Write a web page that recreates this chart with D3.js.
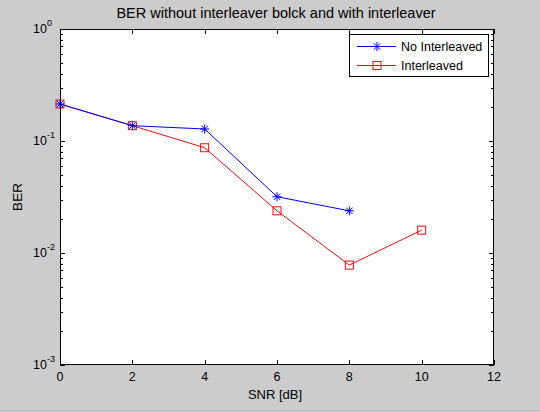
<!DOCTYPE html>
<html lang="en">
<head>
	<meta charset="utf-8">
	<title>BER</title>
<style>
	body, html {
	  margin: 0;
	  padding: 0;
	  background: #cccccc;
	  font-family: "Liberation Sans", Arial, Helvetica, sans-serif;
	}
	svg { display: block; }
</style>
</head>
<body>
	<svg></svg>
	<script src="https://d3js.org/d3.v7.min.js"></script>
	<script>

		// chart values
		let snr = [0, 2, 4, 6, 8, 10];
		let berNoInter = [0.214, 0.137, 0.128, 0.0318, 0.0238];
		let berInter = [0.214, 0.137, 0.0871, 0.0238, 0.0078, 0.0160];
		let xTicks = [0, 2, 4, 6, 8, 10, 12];
		let yTicks = [1, 0.1, 0.01, 0.001];
		let yTickExp = ["0", "-1", "-2", "-3"];
		let seriesNames = ["No Interleaved", "Interleaved"];

		let w = 540, h = 412;
		let m = {left: 60, right: 494, top: 29, bottom: 365};

		let svg = d3.select("svg")
			.attr("width", w)
			.attr("height", h);

		// background and bottom edge line
		svg.append("rect").attr("width", w).attr("height", h).attr("fill", "#cccccc");
		svg.append("line")
			.attr("x1", 0).attr("x2", w)
			.attr("y1", 410.5).attr("y2", 410.5)
			.attr("stroke", "#9dbbd6").attr("stroke-width", 1);

		let x = d3.scaleLinear().domain([0, 12]).range([m.left, m.right]);
		let y = d3.scaleLog().domain([0.001, 1]).range([m.bottom, m.top]);

		// plot area
		svg.append("rect")
			.attr("x", m.left).attr("y", m.top)
			.attr("width", m.right - m.left).attr("height", m.bottom - m.top)
			.attr("fill", "white");

		let axes = svg.append("g").attr("stroke", "black").attr("stroke-width", 1);

		// x ticks (inward, bottom and top)
		xTicks.forEach(t => {
			let px = Math.round(x(t)) + 0.5;
			axes.append("line").attr("x1", px).attr("x2", px).attr("y1", m.bottom).attr("y2", m.bottom - 5);
			axes.append("line").attr("x1", px).attr("x2", px).attr("y1", m.top).attr("y2", m.top + 5);
		});

		// y ticks: major and minor, both sides
		let minor = [];
		for (let e = -3; e < 0; e++) {
			for (let k = 2; k <= 9; k++) minor.push(k * Math.pow(10, e));
		}
		yTicks.forEach(t => {
			let py = Math.round(y(t)) + 0.5;
			axes.append("line").attr("x1", m.left).attr("x2", m.left + 5).attr("y1", py).attr("y2", py);
			axes.append("line").attr("x1", m.right).attr("x2", m.right - 5).attr("y1", py).attr("y2", py);
		});
		minor.forEach(t => {
			let py = Math.round(y(t)) + 0.5;
			axes.append("line").attr("x1", m.left).attr("x2", m.left + 3).attr("y1", py).attr("y2", py);
			axes.append("line").attr("x1", m.right).attr("x2", m.right - 3).attr("y1", py).attr("y2", py);
		});

		// frame
		svg.append("rect")
			.attr("x", m.left + 0.5).attr("y", m.top + 0.5)
			.attr("width", m.right - m.left - 1).attr("height", m.bottom - m.top - 1)
			.attr("fill", "none").attr("stroke", "black");

		// tick labels
		svg.append("g")
			.selectAll("text")
			.data(xTicks)
			.enter()
			.append("text")
			.attr("x", d => x(d))
			.attr("y", m.bottom + 16)
			.attr("text-anchor", "middle")
			.style("font-size", "12.5px")
			.text(d => d);

		let yl = svg.append("g").selectAll("g").data(yTicks).enter().append("g");
		yl.append("text")
			.attr("x", 47)
			.attr("y", d => y(d) + 4)
			.attr("text-anchor", "end")
			.style("font-size", "12.5px")
			.text("10");
		yl.append("text")
			.attr("x", 47)
			.attr("y", d => y(d) - 3)
			.style("font-size", "9px")
			.text((d, i) => yTickExp[i]);

		// titles
		svg.append("text")
			.attr("x", 276).attr("y", 18)
			.attr("text-anchor", "middle")
			.style("font-size", "14.5px")
			.text("BER without interleaver bolck and with interleaver");
		svg.append("text")
			.attr("x", 275).attr("y", 399)
			.attr("text-anchor", "middle")
			.style("font-size", "13px")
			.text("SNR [dB]");
		svg.append("text")
			.attr("transform", "translate(22,197) rotate(-90)")
			.attr("text-anchor", "middle")
			.style("font-size", "13.5px")
			.text("BER");

		let line = d3.line().x(d => x(d[0])).y(d => y(d[1]));

		function star(g, cx, cy, color) {
			let r = 4.5, d = 3.2;
			g.append("path")
				.attr("d", `M${cx - r},${cy}H${cx + r}M${cx},${cy - r}V${cy + r}` +
					`M${cx - d},${cy - d}L${cx + d},${cy + d}M${cx - d},${cy + d}L${cx + d},${cy - d}`)
				.attr("stroke", color).attr("stroke-width", 1).attr("fill", "none");
		}
		function square(g, cx, cy, color) {
			g.append("rect")
				.attr("x", cx - 4).attr("y", cy - 4)
				.attr("width", 8).attr("height", 8)
				.attr("fill", "none").attr("stroke", color).attr("stroke-width", 1);
		}

		let red = "#e01010", blue = "#0000ee";

		// interleaved series
		let interData = berInter.map((v, i) => [snr[i], v]);
		let gRed = svg.append("g");
		gRed.append("path").datum(interData).attr("d", line)
			.attr("fill", "none").attr("stroke", red).attr("stroke-width", 1);
		interData.forEach(d => square(gRed, x(d[0]), y(d[1]), red));

		// no interleaved series
		let noData = berNoInter.map((v, i) => [snr[i], v]);
		let gBlue = svg.append("g");
		gBlue.append("path").datum(noData).attr("d", line)
			.attr("fill", "none").attr("stroke", blue).attr("stroke-width", 1);
		noData.forEach(d => star(gBlue, x(d[0]), y(d[1]), blue));

		// legend
		let legend = svg.append("g").attr("transform", "translate(349,34)");
		legend.append("rect")
			.attr("x", 0.5).attr("y", 0.5).attr("width", 139).attr("height", 42)
			.attr("fill", "white").attr("stroke", "black");
		[blue, red].forEach((c, i) => {
			let ly = 12.5 + i * 19;
			legend.append("line").attr("x1", 8).attr("x2", 47).attr("y1", ly).attr("y2", ly)
				.attr("stroke", c).attr("stroke-width", 1);
			if (i == 0) star(legend, 28, ly, c); else square(legend, 28, ly, c);
			legend.append("text")
				.attr("x", 52).attr("y", ly + 4.5)
				.style("font-size", "12.5px")
				.text(seriesNames[i]);
		});

	</script>
</body>
</html>
